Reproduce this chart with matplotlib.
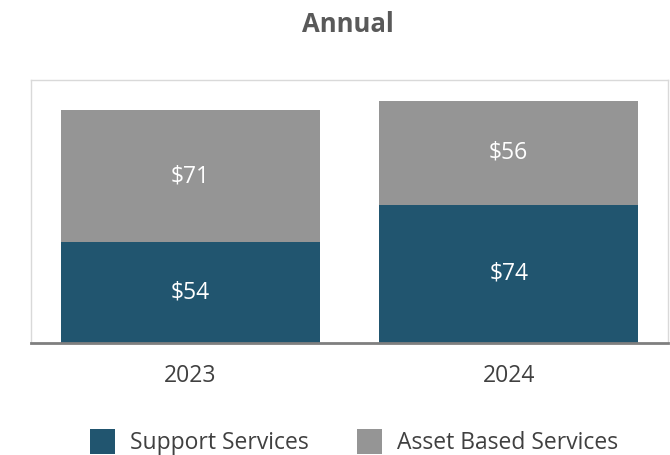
import matplotlib
matplotlib.use("Agg")
import matplotlib.pyplot as plt
from matplotlib.patches import Patch

years = ["2023", "2024"]
support = [54, 74]
asset = [71, 56]
series_names = ["Support Services", "Asset Based Services"]

plt.rcParams['font.family'] = ['Open Sans', 'DejaVu Sans']

c_support = "#21556F"
c_asset = "#959595"

fig = plt.figure(figsize=(6.7, 4.55), dpi=100)
ax = fig.add_axes([31/670, 1 - 343/455, (668-31)/670, (343-80)/455])

x = list(range(len(years)))
ax.bar(x, support, width=0.812, color=c_support, edgecolor="none")
ax.bar(x, asset, width=0.812, bottom=support, color=c_asset, edgecolor="none")

fs = 16.5
for i in x:
    ax.text(i, support[i] / 2, f"${support[i]}", ha="center", va="center",
            color="white", fontsize=fs)
    ax.text(i, support[i] + asset[i] / 2, f"${asset[i]}", ha="center", va="center",
            color="white", fontsize=fs)

ax.set_xlim(-0.5, 1.5)
ax.set_ylim(0, 141)
ax.set_yticks([])
ax.set_xticks(x)
ax.set_xticklabels(years, fontsize=fs, color="#404040")
ax.tick_params(axis="x", length=0, pad=15)

for s in ["top", "left", "right"]:
    ax.spines[s].set_color("#D9D9D9")
    ax.spines[s].set_linewidth(1)
ax.spines["bottom"].set_color("#7F7F7F")
ax.spines["bottom"].set_linewidth(2)

fig.text(348/670, 1 - 25/455, "Annual", ha="center", va="center",
         fontsize=18.5, fontweight="bold", color="#595959")

handles = [Patch(facecolor=c_support, edgecolor="none"),
           Patch(facecolor=c_asset, edgecolor="none")]
fig.legend(handles, series_names, loc="center", bbox_to_anchor=(354/670, 1 - 442/455),
           ncol=2, frameon=False, fontsize=fs, handlelength=1.09, handleheight=1.30,
           handletextpad=0.65, columnspacing=2.1, labelcolor="#404040",
           borderpad=0, borderaxespad=0)

fig.savefig("out.png", dpi=100)
